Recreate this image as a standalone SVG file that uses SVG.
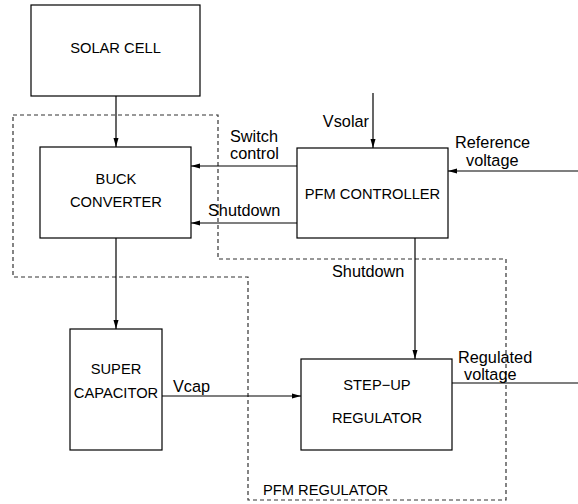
<svg xmlns="http://www.w3.org/2000/svg" width="578" height="504" viewBox="0 0 578 504">
<style>
.box{fill:#fff;stroke:#000;stroke-width:1.2}
.t{font-family:"Liberation Sans",Arial,sans-serif;font-size:14.7px;fill:#000}
.l{font-family:"Liberation Sans",Arial,sans-serif;font-size:16.3px;fill:#000}
.c{stroke:#000;stroke-width:1.2;fill:none}
.d{stroke:#333;stroke-width:1.2;fill:none;stroke-dasharray:4,3}
</style>
<defs>
<marker id="a" markerWidth="10" markerHeight="6" refX="9" refY="3" orient="auto" markerUnits="userSpaceOnUse">
<path d="M0,0.5 L9,3 L0,5.5 Z" fill="#000"/>
</marker>
</defs>
<rect width="578" height="504" fill="#fff"/>
<g id="pfm-regulator-region">
<polygon class="d" points="13,115 218,115 218,259 506,259 506,500 248,500 248,277 13,277"/>
<text class="t" x="263" y="495">PFM REGULATOR</text>
</g>
<g id="connectors">
<line class="c" x1="116" y1="96" x2="116" y2="147" marker-end="url(#a)"/>
<line class="c" x1="297" y1="166" x2="191" y2="166" marker-end="url(#a)"/>
<line class="c" x1="297" y1="223" x2="191" y2="223" marker-end="url(#a)"/>
<line class="c" x1="373" y1="93" x2="373" y2="148" marker-end="url(#a)"/>
<line class="c" x1="578" y1="171" x2="448" y2="171" marker-end="url(#a)"/>
<line class="c" x1="415" y1="238" x2="415" y2="359" marker-end="url(#a)"/>
<line class="c" x1="116" y1="238" x2="116" y2="329" marker-end="url(#a)"/>
<line class="c" x1="162" y1="396" x2="301" y2="396" marker-end="url(#a)"/>
<line class="c" x1="452" y1="383" x2="578" y2="383"/>
<text class="l" x="230" y="142">Switch</text>
<text class="l" x="230" y="159">control</text>
<text class="l" x="208" y="216">Shutdown</text>
<text class="l" x="369" y="127" text-anchor="end">Vsolar</text>
<text class="l" x="455" y="148">Reference</text>
<text class="l" x="466" y="166">voltage</text>
<text class="l" x="332" y="277">Shutdown</text>
<text class="l" x="173" y="392">Vcap</text>
<text class="l" x="458" y="363">Regulated</text>
<text class="l" x="464" y="380">voltage</text>
</g>
<g id="solar-cell">
<rect class="box" x="31" y="5" width="169" height="91"/>
<text class="t" x="115.5" y="53" text-anchor="middle">SOLAR CELL</text>
</g>
<g id="buck-converter">
<rect class="box" x="40" y="147" width="151" height="91"/>
<text class="t" x="116" y="184" text-anchor="middle">BUCK</text>
<text class="t" x="116" y="207" text-anchor="middle">CONVERTER</text>
</g>
<g id="pfm-controller">
<rect class="box" x="297" y="148" width="151" height="90"/>
<text class="t" x="372.5" y="199" text-anchor="middle">PFM CONTROLLER</text>
</g>
<g id="super-capacitor">
<rect class="box" x="70" y="329" width="92" height="121"/>
<text class="t" x="116" y="374" text-anchor="middle">SUPER</text>
<text class="t" x="116" y="398" text-anchor="middle">CAPACITOR</text>
</g>
<g id="step-up-regulator">
<rect class="box" x="301" y="359" width="151" height="91"/>
<text class="t" x="377" y="390" text-anchor="middle">STEP−UP</text>
<text class="t" x="377" y="423" text-anchor="middle">REGULATOR</text>
</g>
</svg>
